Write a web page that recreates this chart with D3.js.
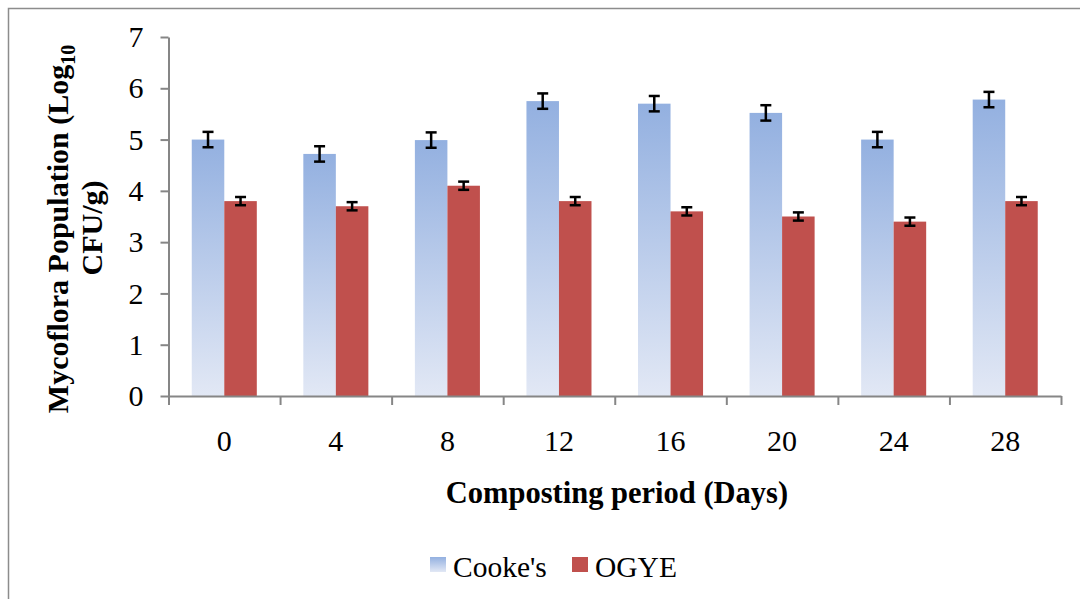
<!DOCTYPE html>
<html><head><meta charset="utf-8">
<script src="https://cdn.jsdelivr.net/npm/d3@7"></script>
<style>body{margin:0;background:#fff}svg{display:block}</style>
</head><body>
<svg id="c" width="1080" height="599"></svg>
<script>
const categories = ["0","4","8","12","16","20","24","28"];
const seriesNames = ["Cooke's","OGYE"];
const cookes = [5.0, 4.72, 4.99, 5.75, 5.7, 5.52, 5.0, 5.78];
const ogye = [3.8, 3.7, 4.1, 3.8, 3.6, 3.5, 3.4, 3.8];
const cookesErr = [0.15, 0.15, 0.15, 0.15, 0.15, 0.15, 0.15, 0.15];
const ogyeErr = [0.08, 0.08, 0.08, 0.08, 0.08, 0.08, 0.08, 0.08];
const yTicks = [0,1,2,3,4,5,6,7];

(function(){
const FONT = "'Liberation Serif','Times New Roman',serif";
const svg = d3.select("#c");
const defs = svg.append("defs");
const g1 = defs.append("linearGradient").attr("id","gb").attr("x1",0).attr("y1",0).attr("x2",0).attr("y2",1);
g1.append("stop").attr("offset","0%").attr("stop-color","#93b0e0");
g1.append("stop").attr("offset","100%").attr("stop-color","#e2e8f5");

svg.append("rect").attr("x",8.5).attr("y",8.5).attr("width",1200).attr("height",700)
  .attr("fill","none").attr("stroke","#8c8c8c").attr("stroke-width",1.5);

const pL = 168.5, pR = 1061, pT = 37, pB = 396;
const x0 = d3.scaleBand().domain(categories).range([pL, pR]).paddingInner(0.417).paddingOuter(0.2085);
const x1 = d3.scaleBand().domain(seriesNames).range([0, x0.bandwidth()]);
const y = d3.scaleLinear().domain([0,7]).range([pB, pT]);
const xEdge = d3.scaleLinear().domain([0, categories.length]).range([pL, pR]);

const data = categories.map((c,i)=>({c, vals:[{s:"Cooke's",v:cookes[i],e:cookesErr[i]},{s:"OGYE",v:ogye[i],e:ogyeErr[i]}]}));

const grp = svg.append("g").selectAll("g").data(data).join("g").attr("transform",d=>`translate(${x0(d.c)},0)`);
grp.selectAll("rect").data(d=>d.vals).join("rect")
  .attr("x",d=>x1(d.s)).attr("width",x1.bandwidth())
  .attr("y",d=>y(d.v)).attr("height",d=>pB-y(d.v))
  .attr("fill",d=>d.s==="OGYE"?"#c0504d":"url(#gb)");
const eb = grp.selectAll("g.eb").data(d=>d.vals).join("g").attr("class","eb")
  .attr("transform",d=>`translate(${x1(d.s)+x1.bandwidth()/2},0)`);
eb.append("line").attr("x1",0).attr("x2",0).attr("y1",d=>y(d.v+d.e)).attr("y2",d=>y(d.v-d.e)).attr("stroke","#000").attr("stroke-width",2.5);
eb.append("line").attr("x1",-5.5).attr("x2",5.5).attr("y1",d=>y(d.v+d.e)).attr("y2",d=>y(d.v+d.e)).attr("stroke","#000").attr("stroke-width",2.5);
eb.append("line").attr("x1",-5.5).attr("x2",5.5).attr("y1",d=>y(d.v-d.e)).attr("y2",d=>y(d.v-d.e)).attr("stroke","#000").attr("stroke-width",2.5);

const yAx = svg.append("g").attr("transform",`translate(${pL},0)`)
  .call(d3.axisLeft(y).tickValues(yTicks).tickFormat(d3.format("d")).tickSize(8).tickPadding(17).tickSizeOuter(0));
yAx.select(".domain").attr("stroke","#868686").attr("stroke-width",2);
yAx.selectAll(".tick line").attr("stroke","#868686").attr("stroke-width",2);
yAx.selectAll("text").attr("font-family",FONT).attr("font-size",30).attr("fill","#000");

const xAx = svg.append("g").attr("transform",`translate(0,${pB})`)
  .call(d3.axisBottom(xEdge).tickValues(d3.range(categories.length+1)).tickSize(9).tickFormat("").tickSizeOuter(0));
xAx.select(".domain").attr("stroke","#868686").attr("stroke-width",2);
xAx.selectAll(".tick line").attr("stroke","#868686").attr("stroke-width",2);
svg.append("g").selectAll("text").data(categories).join("text")
  .attr("x",d=>x0(d)+x0.bandwidth()/2).attr("y",451)
  .attr("text-anchor","middle").attr("font-family",FONT).attr("font-size",30).text(d=>d);

svg.append("text").attr("x",617).attr("y",503).attr("text-anchor","middle")
  .attr("font-family",FONT).attr("font-size",30.5).attr("font-weight","bold")
  .text("Composting period (Days)");
const yt = svg.append("text").attr("transform","translate(68,229) rotate(-90)").attr("text-anchor","middle")
  .attr("font-family",FONT).attr("font-size",30).attr("font-weight","bold");
yt.append("tspan").text("Mycoflora Population (Log");
yt.append("tspan").attr("font-size",20).attr("dy",7).text("10");
svg.append("text").attr("transform","translate(102,228) rotate(-90)").attr("text-anchor","middle")
  .attr("font-family",FONT).attr("font-size",30).attr("font-weight","bold")
  .text("CFU/g)");

const leg = svg.append("g");
const legItems = [{s:"Cooke's",x:430,fill:"url(#gb)"},{s:"OGYE",x:572,fill:"#c0504d"}];
leg.selectAll("rect").data(legItems).join("rect").attr("x",d=>d.x).attr("y",557).attr("width",16).attr("height",15).attr("fill",d=>d.fill);
leg.selectAll("text").data(legItems).join("text").attr("x",d=>d.x+23).attr("y",577)
  .attr("font-family",FONT).attr("font-size",29.5).text(d=>d.s);
})();
</script>
</body></html>
